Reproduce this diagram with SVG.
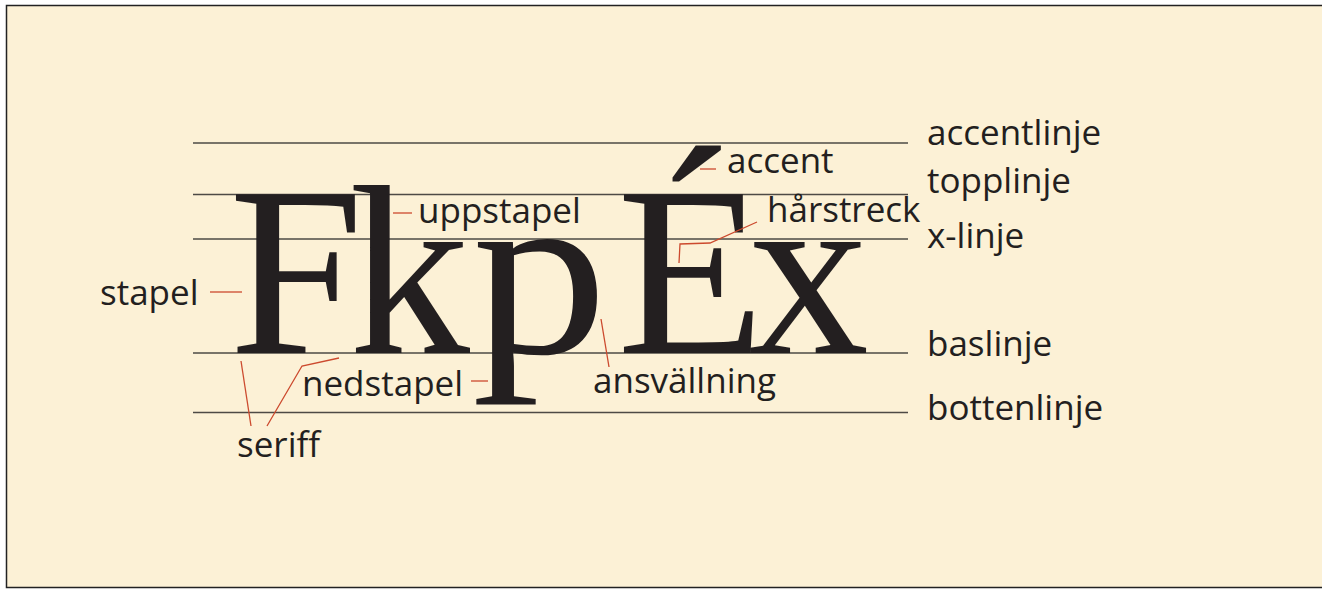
<svg xmlns="http://www.w3.org/2000/svg" width="1322" height="590" viewBox="0 0 1322 590">
  <style>
    .guide { stroke: #4d4a45; stroke-width: 1.3; fill: none; }
    .lead { stroke: #cc4a2e; stroke-width: 1.3; fill: none; }
    .big { font-family: "Liberation Serif", "Times New Roman", serif; font-size: 242px; fill: #231f20; }
    .lbl { font-family: "Open Sans", "Liberation Sans", sans-serif; font-size: 35px; fill: #231f20; }
  </style>
  <rect x="0" y="0" width="1322" height="590" fill="#ffffff"/>
  <rect x="6.5" y="5.5" width="1322" height="582" fill="#fcf1d6" stroke="#222222" stroke-width="1.5"/>

  <g id="guides">
    <line class="guide" x1="193" y1="143" x2="908" y2="143"/>
    <line class="guide" x1="193" y1="194.5" x2="908" y2="194.5"/>
    <line class="guide" x1="193" y1="239" x2="908" y2="239"/>
    <line class="guide" x1="193" y1="353" x2="908" y2="353"/>
    <line class="guide" x1="193" y1="412.5" x2="908" y2="412.5"/>
  </g>

  <g id="specimen">
    <text class="big" x="229" y="353">F</text>
    <text class="big" x="349" y="353">k</text>
    <text class="big" transform="translate(472,353) scale(1.12,1)" x="0" y="0">p</text>
    <text class="big" x="617" y="353">É</text>
    <text class="big" x="748" y="353">x</text>
  </g>

  <g id="connectors">
    <line class="lead" x1="210" y1="292" x2="242" y2="292"/>
    <line class="lead" x1="241" y1="361" x2="251" y2="426"/>
    <polyline class="lead" points="267,426 302,366 339,358"/>
    <line class="lead" x1="471" y1="381" x2="488" y2="381"/>
    <line class="lead" x1="393" y1="213" x2="412" y2="213"/>
    <line class="lead" x1="601" y1="319" x2="609" y2="367"/>
    <line class="lead" x1="700" y1="169" x2="716" y2="169"/>
    <polyline class="lead" points="757,222 710,243 680,244 679,263"/>
  </g>

  <g id="label-stapel"><text class="lbl" x="100" y="305">stapel</text></g>
  <g id="label-seriff"><text class="lbl" x="237" y="457">seriff</text></g>
  <g id="label-nedstapel"><text class="lbl" x="302" y="396">nedstapel</text></g>
  <g id="label-uppstapel"><text class="lbl" x="418" y="223">uppstapel</text></g>
  <g id="label-ansvallning"><text class="lbl" x="593" y="393">ansvällning</text></g>
  <g id="label-accent"><text class="lbl" x="727" y="173">accent</text></g>
  <g id="label-harstreck"><text class="lbl" x="767" y="222">hårstreck</text></g>

  <g id="label-accentlinje"><text class="lbl" x="927" y="145">accentlinje</text></g>
  <g id="label-topplinje"><text class="lbl" x="927" y="193">topplinje</text></g>
  <g id="label-xlinje"><text class="lbl" x="927" y="248">x-linje</text></g>
  <g id="label-baslinje"><text class="lbl" x="927" y="356">baslinje</text></g>
  <g id="label-bottenlinje"><text class="lbl" x="927" y="420">bottenlinje</text></g>
</svg>
